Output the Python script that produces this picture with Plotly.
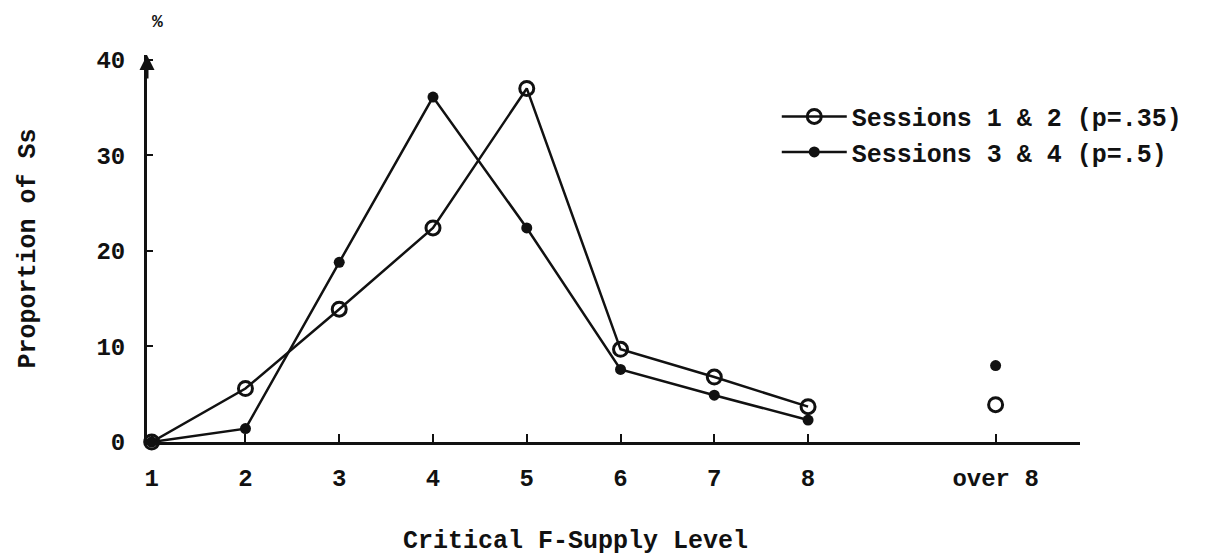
import plotly.graph_objects as go

levels = [1, 2, 3, 4, 5, 6, 7, 8]
over8_pos = [10]
tick_vals = [1, 2, 3, 4, 5, 6, 7, 8, 10]
tick_text = ["1", "2", "3", "4", "5", "6", "7", "8", "over 8"]

s12 = [0, 5.6, 13.9, 22.4, 37.0, 9.7, 6.8, 3.7]
s12_over8 = [3.9]
s34 = [0, 1.4, 18.8, 36.1, 22.4, 7.6, 4.9, 2.3]
s34_over8 = [8.0]

FONT = "Liberation Mono"
BLACK = "#111111"

fig = go.Figure()
fig.add_trace(go.Scatter(
    x=levels, y=s34, mode="lines+markers", name="Sessions 3 & 4 (p=.5)",
    line=dict(color=BLACK, width=2.5),
    marker=dict(symbol="circle", size=11, color=BLACK),
    cliponaxis=False, legendrank=2))
fig.add_trace(go.Scatter(
    x=over8_pos, y=s34_over8, mode="markers", showlegend=False,
    marker=dict(symbol="circle", size=11, color=BLACK), cliponaxis=False))
fig.add_trace(go.Scatter(
    x=levels, y=s12, mode="lines+markers", name="Sessions 1 & 2 (p=.35)",
    line=dict(color=BLACK, width=2.5),
    marker=dict(symbol="circle-open", size=14, color=BLACK, line=dict(width=3)),
    cliponaxis=False, legendrank=1))
fig.add_trace(go.Scatter(
    x=over8_pos, y=s12_over8, mode="markers", showlegend=False,
    marker=dict(symbol="circle-open", size=14, color=BLACK, line=dict(width=3)),
    cliponaxis=False))

fig.update_layout(
    width=1202, height=549,
    margin=dict(l=139, r=130, t=47, b=115),
    plot_bgcolor="white", paper_bgcolor="white",
    font=dict(family=FONT, size=24, color=BLACK),
    legend=dict(x=0.675, y=0.90, xanchor="left", yanchor="top",
                itemwidth=65,
                font=dict(family=FONT, size=25, color=BLACK, weight="bold"),
                bgcolor="rgba(0,0,0,0)"),
    xaxis=dict(range=[0.95, 10.9], tickvals=tick_vals, ticktext=tick_text,
               showline=True, linecolor=BLACK, linewidth=2.5, ticks="inside",
               ticklen=8, tickwidth=2, tickcolor=BLACK, showgrid=False, zeroline=False,
               ticklabelstandoff=12,
               tickfont=dict(family=FONT, size=24, color=BLACK, weight="bold")),
    yaxis=dict(range=[0, 40.5], tickvals=[0, 10, 20, 30, 40],
               showline=True, linecolor=BLACK, linewidth=3, ticks="inside",
               ticklen=6, tickwidth=2, tickcolor=BLACK, showgrid=False, zeroline=False,
               ticklabelstandoff=14,
               tickfont=dict(family=FONT, size=24, color=BLACK, weight="bold")),
    annotations=[
        dict(text="Proportion of Ss", xref="paper", yref="paper", x=-0.1275, y=0.5,
             textangle=-90, showarrow=False, xanchor="center", yanchor="middle",
             font=dict(family=FONT, size=25, color=BLACK, weight="bold")),
        dict(text="Critical F-Supply Level", xref="paper", yref="paper", x=0.459, y=-0.256,
             showarrow=False, xanchor="center", yanchor="middle",
             font=dict(family=FONT, size=25, color=BLACK, weight="bold")),
        dict(text="%", xref="paper", yref="paper", x=0.011, y=1.085, showarrow=False,
             xanchor="center", yanchor="middle",
             font=dict(family=FONT, size=18, color=BLACK, weight="bold")),
        dict(text="", xref="paper", yref="paper", x=0, y=1.0, ax=0, ay=25,
             showarrow=True, arrowhead=2, arrowsize=1, arrowwidth=3, arrowcolor=BLACK),
    ],
)

fig.write_html("out.html")
